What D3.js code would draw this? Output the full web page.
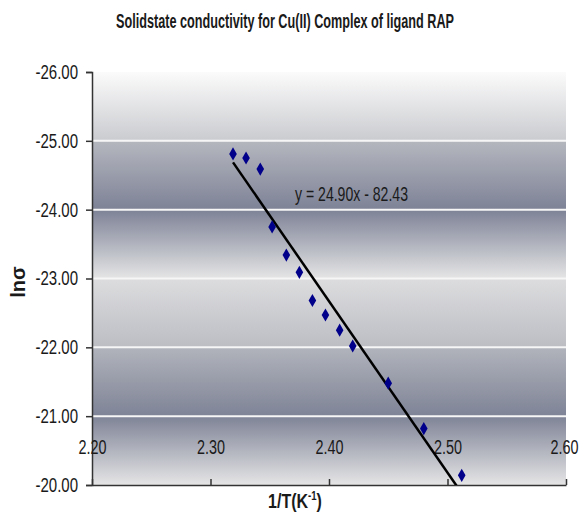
<!DOCTYPE html>
<html>
<head>
<meta charset="utf-8">
<script src="https://cdn.jsdelivr.net/npm/d3@7"></script>
<style>
  body { margin: 0; background: #fff; }
  svg text { font-family: "Liberation Sans", Arial, sans-serif; fill: #1a1a1a; }
</style>
</head>
<body>
<div id="chart"></div>
<script>
// data
const invT = [2.319, 2.330, 2.342, 2.352, 2.364, 2.375, 2.386, 2.397, 2.409, 2.420, 2.450, 2.480, 2.512];
const lnSigma = [-24.81, -24.75, -24.59, -23.75, -23.34, -23.09, -22.68, -22.47, -22.25, -22.02, -21.48, -20.82, -20.14];
const xTicks = [2.2, 2.3, 2.4, 2.5, 2.6];
const yTicks = [-26, -25, -24, -23, -22, -21, -20];
const slope = 24.90, intercept = -82.43;

const W = 579, H = 516;
const plot = { left: 92, right: 566, top: 72, bottom: 485 };
const FONT = "'Liberation Sans', Arial, sans-serif";

const x = d3.scaleLinear().domain([2.2, 2.6]).range([plot.left, plot.right]);
// reversed axis: -26 at top
const y = d3.scaleLinear().domain([-26, -20]).range([plot.top, plot.bottom]);

const svg = d3.select("#chart").append("svg")
  .attr("width", W).attr("height", H);

// no Arial Narrow here, so squeeze the glyphs of a text horizontally
function narrow(sel, k) {
  sel.each(function () {
    const len = this.getComputedTextLength();
    d3.select(this).attr("textLength", len * k).attr("lengthAdjust", "spacingAndGlyphs");
  });
}

const defs = svg.append("defs");

// banded grey background of the plot area
const grad = defs.append("linearGradient")
  .attr("id", "bg").attr("gradientUnits", "userSpaceOnUse")
  .attr("x1", 0).attr("x2", 0).attr("y1", plot.top).attr("y2", plot.bottom);
const stops = [
  [-26, "#fbfbfb"], [-25.02, "#cbccd0"], [-24.98, "#b4b6be"], [-24, "#7d8296"],
  [-23.02, "#e3e3e4"], [-22.98, "#dcdcde"], [-22.02, "#bcbec4"], [-21.98, "#b0b3bb"],
  [-21, "#7e8396"], [-20, "#e5e5e6"]
];
stops.forEach(([v, c]) => {
  grad.append("stop").attr("offset", (y(v) - plot.top) / (plot.bottom - plot.top)).attr("stop-color", c);
});

defs.append("clipPath").attr("id", "clip")
  .append("rect")
  .attr("x", plot.left).attr("y", plot.top)
  .attr("width", plot.right - plot.left).attr("height", plot.bottom - plot.top);

svg.append("rect")
  .attr("x", plot.left).attr("y", plot.top)
  .attr("width", plot.right - plot.left).attr("height", plot.bottom - plot.top)
  .attr("fill", "url(#bg)");

// gridlines
svg.append("g").selectAll("line")
  .data(yTicks.filter(d => d !== -26 && d !== -20))
  .enter().append("line")
  .attr("x1", plot.left).attr("x2", plot.right)
  .attr("y1", d => y(d)).attr("y2", d => y(d))
  .attr("stroke", "#f6f6f6").attr("stroke-width", 2);

// title
svg.append("text")
  .attr("x", 285).attr("y", 28)
  .attr("text-anchor", "middle")
  .attr("font-size", 20).attr("font-weight", "bold")
  .attr("textLength", 338).attr("lengthAdjust", "spacingAndGlyphs")
  .text("Solidstate conductivity for Cu(II) Complex of ligand RAP");

// y axis
const yAxis = svg.append("g")
  .attr("transform", `translate(${plot.left},0)`)
  .call(d3.axisLeft(y).tickValues(yTicks).tickFormat(d => d.toFixed(2)).tickSize(6).tickPadding(8));
yAxis.select(".domain").attr("stroke", "#333").attr("stroke-width", 1.5);
yAxis.selectAll(".tick line").attr("stroke", "#333").attr("stroke-width", 1.5);
yAxis.selectAll("text").attr("font-size", 20).attr("fill", "#1a1a1a").style("font-family", FONT)
  .call(narrow, 0.75);

// x axis at the bottom, ticks pointing up, labels sitting above the line
const xAxis = svg.append("g")
  .attr("transform", `translate(0,${plot.bottom})`)
  .call(d3.axisBottom(x).tickValues(xTicks).tickFormat(d => d.toFixed(2)).tickSizeInner(-6).tickSizeOuter(0));
xAxis.select(".domain").attr("stroke", "#333").attr("stroke-width", 1.5);
xAxis.selectAll(".tick line").attr("stroke", "#333").attr("stroke-width", 1.5);
xAxis.selectAll("text").attr("font-size", 20).attr("fill", "#1a1a1a")
  .attr("y", -31).attr("dy", 0).style("font-family", FONT)
  .attr("dx", d => d === 2.6 ? -2 : 0)
  .call(narrow, 0.72);

// axis titles
const xt = svg.append("text")
  .attr("transform", "translate(295,508) scale(0.8,1)")
  .attr("text-anchor", "middle")
  .attr("font-size", 20).attr("font-weight", "bold");
xt.append("tspan").text("1/T(K");
xt.append("tspan").attr("font-size", 12).attr("dy", -8).text("-1");
xt.append("tspan").attr("dy", 8).text(")");

svg.append("text")
  .attr("transform", "translate(25,282) rotate(-90)")
  .attr("text-anchor", "middle")
  .attr("font-size", 20).attr("font-weight", "bold")
  .text("lnσ");

// trend line
const xs = d3.extent(invT);
svg.append("line")
  .attr("clip-path", "url(#clip)")
  .attr("x1", x(xs[0])).attr("y1", y(slope * xs[0] + intercept))
  .attr("x2", x(xs[1])).attr("y2", y(slope * xs[1] + intercept))
  .attr("stroke", "#000").attr("stroke-width", 2.5);

// points
svg.append("g").selectAll("path")
  .data(invT.map((v, i) => [v, lnSigma[i]]))
  .enter().append("path")
  .attr("d", d3.symbol().type(d3.symbolDiamond).size(50))
  .attr("transform", d => `translate(${x(d[0])},${y(d[1])})`)
  .attr("fill", "#00008b");

// equation label
svg.append("text")
  .attr("x", 295).attr("y", 201)
  .attr("font-size", 20)
  .attr("textLength", 113).attr("lengthAdjust", "spacingAndGlyphs")
  .text("y = 24.90x - 82.43");
</script>
</body>
</html>
